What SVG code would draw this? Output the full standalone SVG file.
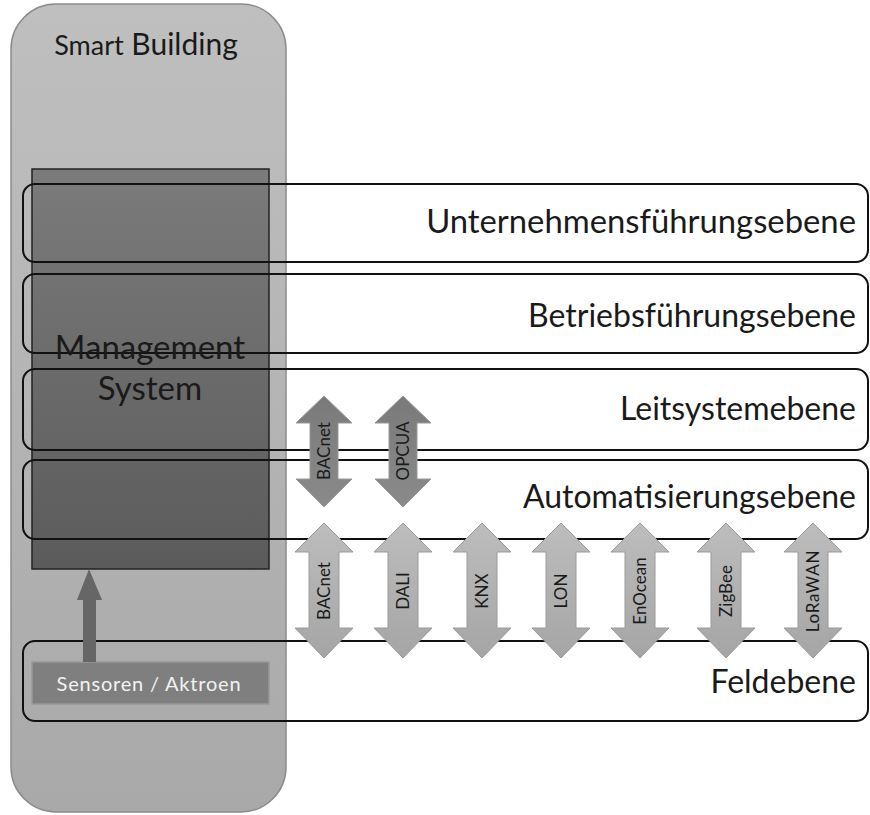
<svg xmlns="http://www.w3.org/2000/svg" width="870" height="815" viewBox="0 0 870 815">
<defs>
<linearGradient id="gOuter" x1="0" y1="0" x2="0" y2="1"><stop offset="0" stop-color="#bfbfbf"/><stop offset="1" stop-color="#a9a9a9"/></linearGradient>
<linearGradient id="gMgmt" x1="0" y1="0" x2="0" y2="1"><stop offset="0" stop-color="#7b7b7b"/><stop offset="1" stop-color="#5b5b5b"/></linearGradient>
<linearGradient id="gDark" x1="0" y1="0" x2="0" y2="1"><stop offset="0" stop-color="#7a7a7a"/><stop offset="1" stop-color="#8a8a8a"/></linearGradient>
<linearGradient id="gLight" x1="0" y1="0" x2="0" y2="1"><stop offset="0" stop-color="#bdbdbd"/><stop offset="1" stop-color="#a5a5a5"/></linearGradient>
<path id="arrUp" d="M0,0 L28,27 L14,27 L14,83 L28,83 L0,111 L-28,83 L-14,83 L-14,27 L-28,27 Z"/>
<path id="arrLow" d="M0,0 L29,29 L15,29 L15,105 L29,105 L0,135 L-29,105 L-15,105 L-15,29 L-29,29 Z"/>
</defs>
<style>
text{font-family:Lato,"Liberation Sans",sans-serif;fill:#1a1a1a}
.layer{fill:none;stroke:#111;stroke-width:2}
.lbl{font-size:32px;text-anchor:end}
.proto{font-size:17px;text-anchor:middle}
.dark{fill:url(#gDark);stroke:#9a9a9a;stroke-width:1}
.light{fill:url(#gLight);stroke:#9a9a9a;stroke-width:1}
</style>
<g id="smart-building">
<rect x="11" y="4" width="275" height="808" rx="45" fill="url(#gOuter)" stroke="#8c8c8c" stroke-width="1.5"/>
<text x="146" y="55" text-anchor="middle" style="font-size:30px"><tspan style="font-size:27px">Smart</tspan> Building</text>
</g>
<g id="management-system">
<rect x="32" y="169" width="237" height="400" fill="url(#gMgmt)" stroke="#222" stroke-width="1.5"/>
</g>
<g id="sensoren">
<rect x="32" y="662" width="237" height="42" fill="#7f7f7f" stroke="#999" stroke-width="1.5"/>
<text x="149" y="691" text-anchor="middle" style="font-size:20px;fill:#f2f2f2;letter-spacing:0.8px">Sensoren / Aktroen</text>
</g>
<g id="layers">
<g id="unternehmensfuehrungsebene"><rect class="layer" x="23" y="184" width="845" height="78" rx="12"/><text class="lbl" x="856" y="233" style="font-size:32.8px">Unternehmensführungsebene</text></g>
<g id="betriebsfuehrungsebene"><rect class="layer" x="23" y="274" width="845" height="79" rx="12"/><text class="lbl" x="856" y="327">Betriebsführungsebene</text></g>
<g id="leitsystemebene"><rect class="layer" x="23" y="369" width="845" height="81" rx="12"/><text class="lbl" x="856" y="420">Leitsystemebene</text></g>
<g id="automatisierungsebene"><rect class="layer" x="23" y="460" width="845" height="79" rx="12"/><text class="lbl" x="856" y="508">Automatisierungsebene</text></g>
<g id="feldebene"><rect class="layer" x="23" y="641" width="845" height="80" rx="12"/><text class="lbl" x="856" y="693">Feldebene</text></g>
</g>
<g id="management-label">
<text x="150" y="359" text-anchor="middle" style="font-size:33px">Management</text>
<text x="150" y="400" text-anchor="middle" style="font-size:33px">System</text>
</g>
<g id="connectors">
<g id="up-arrow"><path d="M83,662 L83,600 L77,600 L89,569 L102,600 L96,600 L96,662 Z" fill="#666"/></g>
<g id="bacnet-top"><use href="#arrUp" x="324" y="396" class="dark"/><text class="proto" transform="translate(330,451) rotate(-90)">BACnet</text></g>
<g id="opcua-top"><use href="#arrUp" x="403" y="396" class="dark"/><text class="proto" transform="translate(409,451) rotate(-90)">OPCUA</text></g>
<g id="bacnet-low"><use href="#arrLow" x="324" y="523" class="light"/><text class="proto" transform="translate(330,591) rotate(-90)">BACnet</text></g>
<g id="dali"><use href="#arrLow" x="403" y="523" class="light"/><text class="proto" transform="translate(409,591) rotate(-90)">DALI</text></g>
<g id="knx"><use href="#arrLow" x="482" y="523" class="light"/><text class="proto" transform="translate(488,591) rotate(-90)">KNX</text></g>
<g id="lon"><use href="#arrLow" x="561" y="523" class="light"/><text class="proto" transform="translate(567,591) rotate(-90)">LON</text></g>
<g id="enocean"><use href="#arrLow" x="640" y="523" class="light"/><text class="proto" transform="translate(646,591) rotate(-90)">EnOcean</text></g>
<g id="zigbee"><use href="#arrLow" x="726" y="523" class="light"/><text class="proto" transform="translate(732,591) rotate(-90)">ZigBee</text></g>
<g id="lorawan"><use href="#arrLow" x="813" y="523" class="light"/><text class="proto" transform="translate(819,591) rotate(-90)" style="letter-spacing:0.8px">LoRaWAN</text></g>
</g>
</svg>
